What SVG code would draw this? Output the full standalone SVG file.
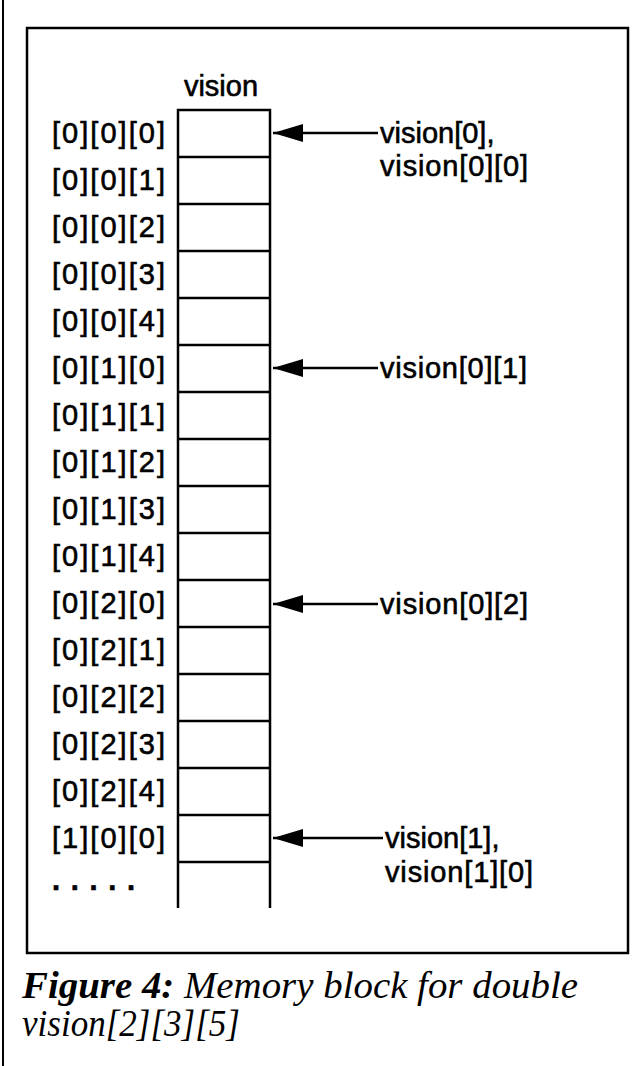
<svg xmlns="http://www.w3.org/2000/svg" width="640" height="1066" viewBox="0 0 640 1066">
<style>
.lbl{font-family:"Liberation Sans",Arial,sans-serif;font-size:29px;fill:#000;stroke:#000;stroke-width:0.6}
.cell{fill:none;stroke:#000;stroke-width:2.5}
.conn{stroke:#000;stroke-width:2.5;fill:none}
.cap{font-family:"Liberation Serif","Times New Roman",serif;font-size:38px;font-style:italic;fill:#000}
</style>
<defs>
<marker id="ah" viewBox="0 0 30 18" refX="0" refY="9" markerWidth="30" markerHeight="18" markerUnits="userSpaceOnUse" orient="auto">
<polygon points="0,9 30,0 30,18" fill="#000"/>
</marker>
</defs>
<rect width="640" height="1066" fill="#fff"/>
<line x1="3" y1="0" x2="3" y2="1066" stroke="#000" stroke-width="2"/>
<rect x="27" y="28" width="601" height="925" fill="none" stroke="#000" stroke-width="2.5"/>
<g id="column">
<text class="lbl" x="221" y="96" text-anchor="middle">vision</text>
<path class="cell" d="M178,908 V110 H270 V908"/>
<path class="cell" d="M178,157H270M178,204H270M178,251H270M178,298H270M178,345H270M178,392H270M178,439H270M178,486H270M178,533H270M178,580H270M178,627H270M178,674H270M178,721H270M178,768H270M178,815H270M178,862H270"/>
</g>
<g id="labels">
<text class="lbl" x="52" y="143" textLength="113" lengthAdjust="spacing">[0][0][0]</text>
<text class="lbl" x="52" y="190" textLength="113" lengthAdjust="spacing">[0][0][1]</text>
<text class="lbl" x="52" y="237" textLength="113" lengthAdjust="spacing">[0][0][2]</text>
<text class="lbl" x="52" y="284" textLength="113" lengthAdjust="spacing">[0][0][3]</text>
<text class="lbl" x="52" y="331" textLength="113" lengthAdjust="spacing">[0][0][4]</text>
<text class="lbl" x="52" y="378" textLength="113" lengthAdjust="spacing">[0][1][0]</text>
<text class="lbl" x="52" y="425" textLength="113" lengthAdjust="spacing">[0][1][1]</text>
<text class="lbl" x="52" y="472" textLength="113" lengthAdjust="spacing">[0][1][2]</text>
<text class="lbl" x="52" y="519" textLength="113" lengthAdjust="spacing">[0][1][3]</text>
<text class="lbl" x="52" y="566" textLength="113" lengthAdjust="spacing">[0][1][4]</text>
<text class="lbl" x="52" y="613" textLength="113" lengthAdjust="spacing">[0][2][0]</text>
<text class="lbl" x="52" y="660" textLength="113" lengthAdjust="spacing">[0][2][1]</text>
<text class="lbl" x="52" y="707" textLength="113" lengthAdjust="spacing">[0][2][2]</text>
<text class="lbl" x="52" y="754" textLength="113" lengthAdjust="spacing">[0][2][3]</text>
<text class="lbl" x="52" y="801" textLength="113" lengthAdjust="spacing">[0][2][4]</text>
<text class="lbl" x="52" y="848" textLength="113" lengthAdjust="spacing">[1][0][0]</text>
<text class="lbl" x="52" y="890" font-weight="bold" textLength="83" lengthAdjust="spacing">.....</text>
</g>
<g id="connectors">
<line class="conn" x1="273" y1="133" x2="378" y2="133" marker-start="url(#ah)"/>
<line class="conn" x1="273" y1="368" x2="378" y2="368" marker-start="url(#ah)"/>
<line class="conn" x1="273" y1="604" x2="378" y2="604" marker-start="url(#ah)"/>
<line class="conn" x1="273" y1="838" x2="383" y2="838" marker-start="url(#ah)"/>
</g>
<g id="pointer-labels">
<text class="lbl" x="380" y="143">vision[0],</text>
<text class="lbl" x="380" y="176" textLength="148" lengthAdjust="spacing">vision[0][0]</text>
<text class="lbl" x="380" y="378" textLength="147" lengthAdjust="spacing">vision[0][1]</text>
<text class="lbl" x="380" y="614" textLength="148" lengthAdjust="spacing">vision[0][2]</text>
<text class="lbl" x="385" y="848">vision[1],</text>
<text class="lbl" x="385" y="882" textLength="148" lengthAdjust="spacing">vision[1][0]</text>
</g>
<g id="caption">
<text class="cap" x="22" y="998" textLength="556" lengthAdjust="spacingAndGlyphs"><tspan font-weight="bold">Figure 4:</tspan> Memory block for double</text>
<text class="cap" x="22" y="1036" textLength="218" lengthAdjust="spacingAndGlyphs">vision[2][3][5]</text>
</g>
</svg>
